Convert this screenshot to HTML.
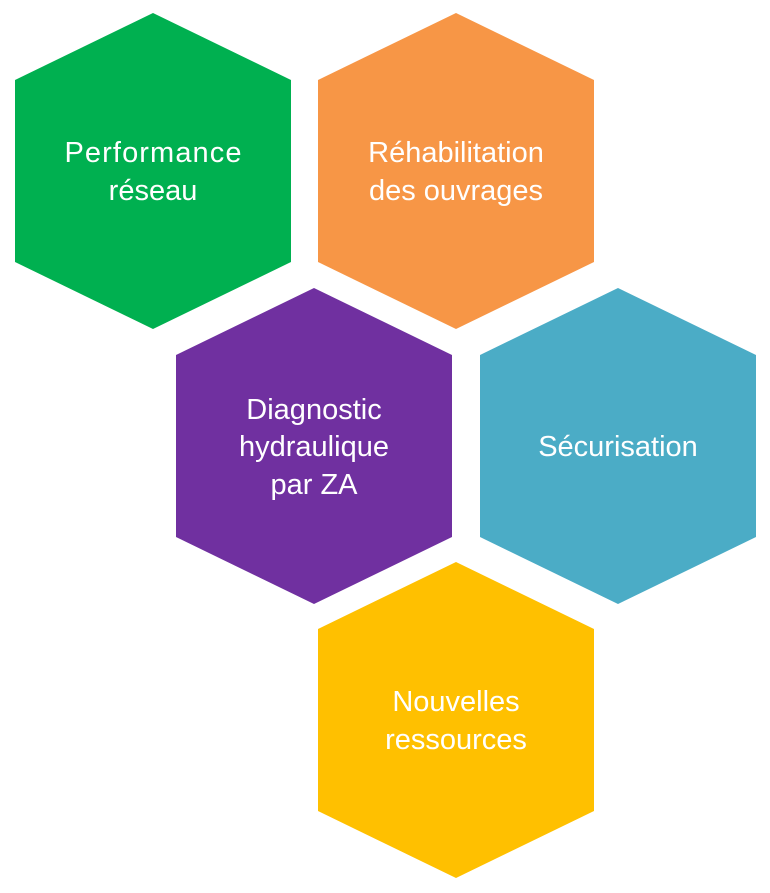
<!DOCTYPE html>
<html><head><meta charset="utf-8"><style>
html,body{margin:0;padding:0;background:#fff;}
svg{display:block;}
text{font-family:"Liberation Sans",sans-serif;font-size:29px;fill:#fff;text-anchor:middle;}
</style></head><body>
<svg width="770" height="893" viewBox="0 0 770 893" xmlns="http://www.w3.org/2000/svg">
<polygon points="153,13 291,80 291,262 153,329 15,262 15,80" fill="#00B050"/>
<polygon points="456,13 594,80 594,262 456,329 318,262 318,80" fill="#F79646"/>
<polygon points="314,288 452,355 452,537 314,604 176,537 176,355" fill="#7030A0"/>
<polygon points="618,288 756,355 756,537 618,604 480,537 480,355" fill="#4BACC6"/>
<polygon points="456,562 594,629 594,811 456,878 318,811 318,629" fill="#FFC000"/>
<text x="153" y="162" textLength="177">Performance</text>
<text x="153" y="200">réseau</text>
<text x="456" y="162">Réhabilitation</text>
<text x="456" y="200">des ouvrages</text>
<text x="314" y="419">Diagnostic</text>
<text x="314" y="456">hydraulique</text>
<text x="314" y="494">par ZA</text>
<text x="618" y="456">Sécurisation</text>
<text x="456" y="711">Nouvelles</text>
<text x="456" y="749">ressources</text>
</svg>
</body></html>
